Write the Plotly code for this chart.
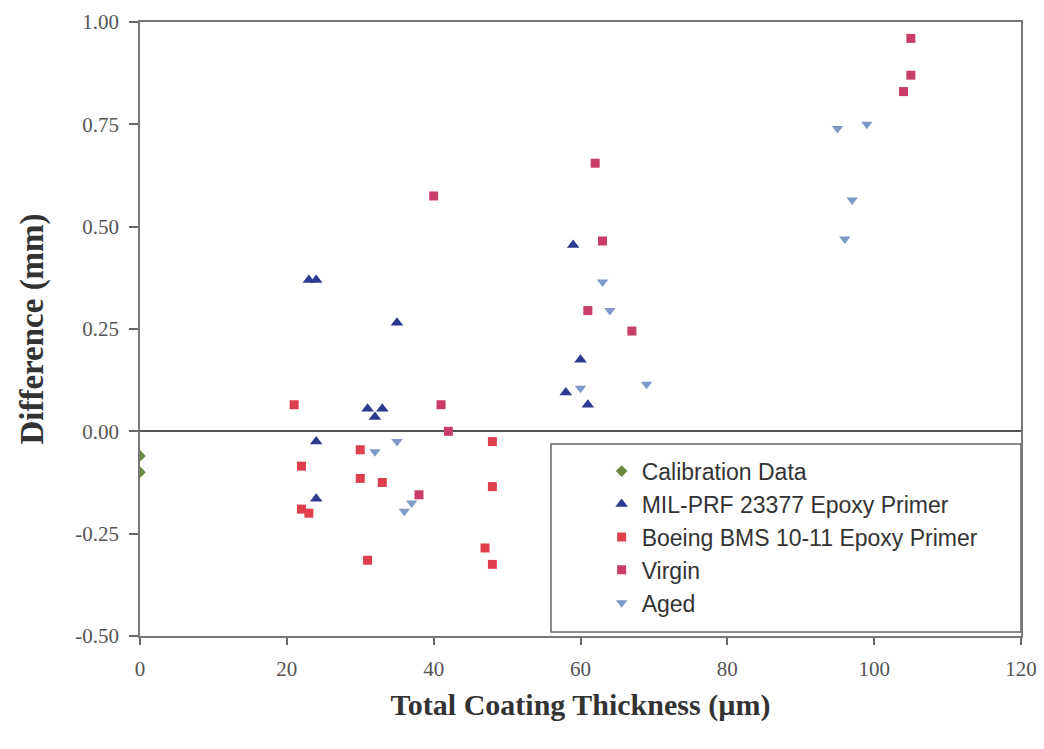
import plotly.graph_objects as go

# ---- data ----
calib_x = [0, 0]
calib_y = [-0.06, -0.10]

mil_x = [23, 24, 24, 24, 35, 31, 32, 33, 59, 60, 58, 61]
mil_y = [0.37, 0.37, -0.025, -0.165, 0.265, 0.055, 0.035, 0.055, 0.455, 0.175, 0.095, 0.065]

boeing_x = [21, 22, 22, 23, 30, 30, 33, 31, 48, 48, 47, 48]
boeing_y = [0.065, -0.085, -0.19, -0.20, -0.045, -0.115, -0.125, -0.315, -0.025, -0.135, -0.285, -0.325]

virgin_x = [40, 62, 63, 61, 67, 105, 105, 104, 41, 42, 38]
virgin_y = [0.575, 0.655, 0.465, 0.295, 0.245, 0.96, 0.87, 0.83, 0.065, 0.0, -0.155]

aged_x = [32, 35, 36, 37, 63, 64, 60, 69, 95, 99, 97, 96]
aged_y = [-0.05, -0.025, -0.195, -0.175, 0.365, 0.295, 0.105, 0.115, 0.74, 0.75, 0.565, 0.47]

x_ticks = [0, 20, 40, 60, 80, 100, 120]
y_ticks = [-0.50, -0.25, 0.00, 0.25, 0.50, 0.75, 1.00]
y_ticktext = ["-0.50", "-0.25", "0.00", "0.25", "0.50", "0.75", "1.00"]

SERIF = "Liberation Serif, Times New Roman, serif"
SANS = "Liberation Sans, Arial, sans-serif"

fig = go.Figure()
fig.add_trace(go.Scatter(x=calib_x, y=calib_y, mode="markers", name="Calibration Data",
                         marker=dict(symbol="diamond", size=9, color="#6d8a45")))
fig.add_trace(go.Scatter(x=mil_x, y=mil_y, mode="markers", name="MIL-PRF 23377 Epoxy Primer",
                         marker=dict(symbol="triangle-up", size=11, color="#2c3b8f")))
fig.add_trace(go.Scatter(x=boeing_x, y=boeing_y, mode="markers", name="Boeing BMS 10-11 Epoxy Primer",
                         marker=dict(symbol="square", size=9, color="#e0404e")))
fig.add_trace(go.Scatter(x=virgin_x, y=virgin_y, mode="markers", name="Virgin",
                         marker=dict(symbol="square", size=9, color="#c93d68")))
fig.add_trace(go.Scatter(x=aged_x, y=aged_y, mode="markers", name="Aged",
                         marker=dict(symbol="triangle-down", size=10, color="#7f9ac8")))

# legend frame
fig.add_shape(type="rect", xref="paper", yref="paper",
              x0=0.4665, x1=1.0, y0=0.0065, y1=0.3127,
              line=dict(color="#666666", width=1.5), fillcolor="white", layer="below")

fig.update_layout(
    width=1032, height=733,
    margin=dict(l=132, r=19, t=14, b=105, autoexpand=False),
    paper_bgcolor="white", plot_bgcolor="white",
    showlegend=True,
    legend=dict(x=0.524, y=0.161, xanchor="left", yanchor="middle",
                bgcolor="rgba(0,0,0,0)", borderwidth=0,
                font=dict(family=SANS, size=23, color="#333333"),
                itemsizing="trace"),
    xaxis=dict(range=[0, 120], tickvals=x_ticks, ticks="outside", ticklen=7,
               tickcolor="#666", tickwidth=1.5,
               showgrid=False, zeroline=False,
               showline=True, linecolor="#777", linewidth=1.5, mirror=True,
               tickfont=dict(family=SERIF, size=21, color="#555"),
               ticklabelstandoff=6, ticklabeloverflow="allow", automargin=False,
               title=dict(text="<b>Total Coating Thickness (µm)</b>",
                          font=dict(family=SERIF, size=30, color="#333"), standoff=14)),
    yaxis=dict(range=[-0.5, 1.0], tickvals=y_ticks, ticktext=y_ticktext,
               ticks="outside", ticklen=9, tickcolor="#666", tickwidth=1.5,
               showgrid=False, zeroline=True, zerolinecolor="#555", zerolinewidth=2,
               showline=True, linecolor="#777", linewidth=1.5, mirror=True,
               tickfont=dict(family=SERIF, size=21, color="#555"),
               ticklabelstandoff=6, automargin=False,
               title=dict(text="<b>Difference (mm)</b>",
                          font=dict(family=SERIF, size=33, color="#333"), standoff=22)),
)

fig.write_html("out.html")
